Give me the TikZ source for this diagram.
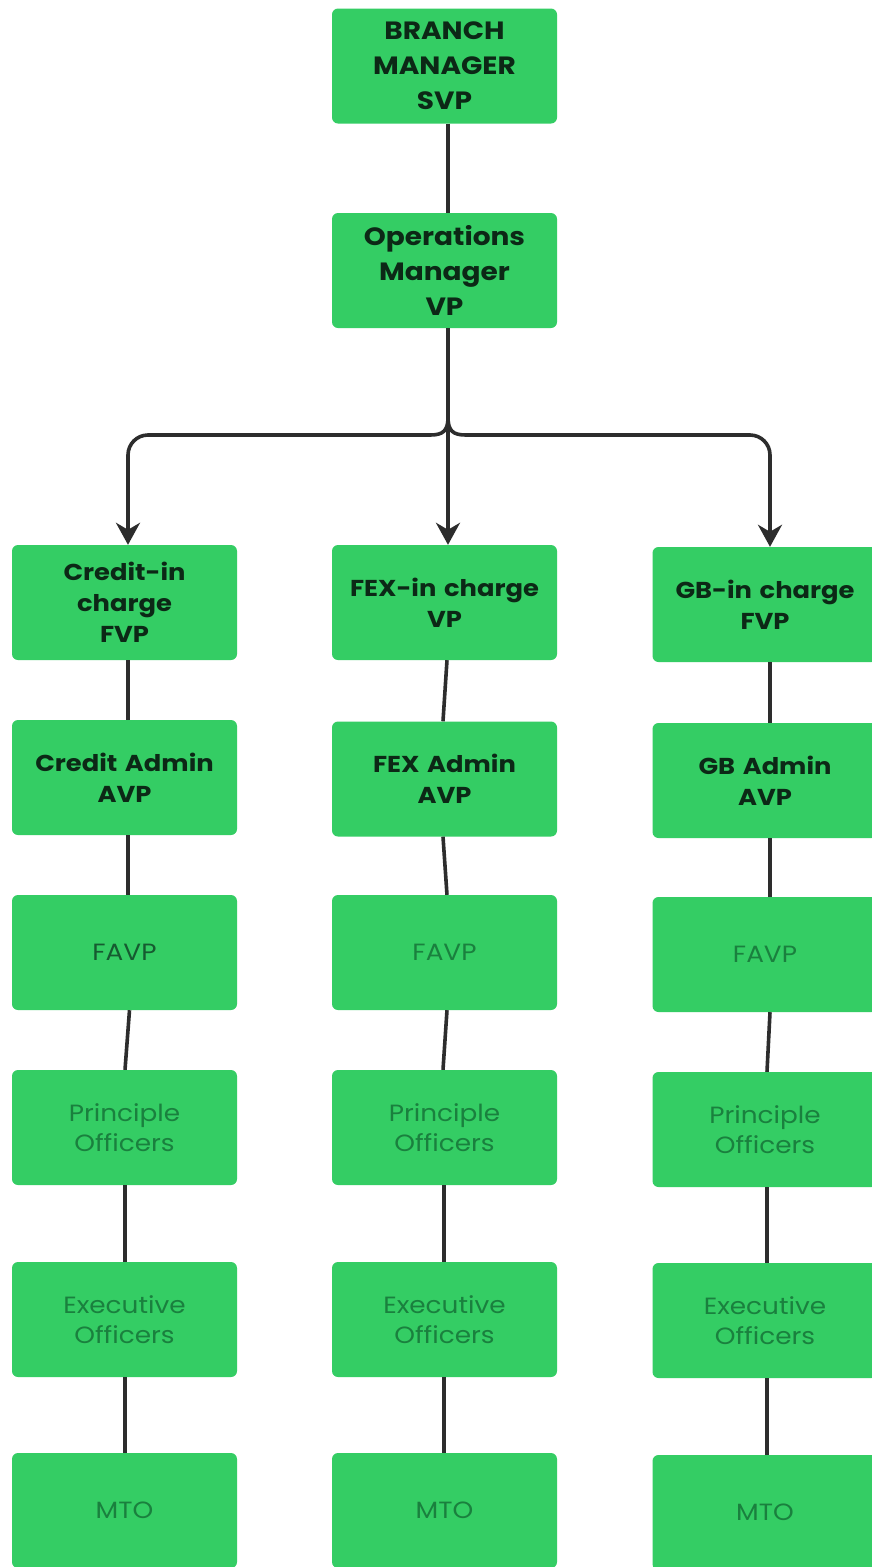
\documentclass[tikz,border=0pt]{standalone}
\usepackage{fontspec}
\setmainfont{Poppins}[FakeStretch=1.12]
\usetikzlibrary{arrows.meta,calc}
\definecolor{boxgreen}{RGB}{52,205,100}
\definecolor{linegray}{RGB}{45,45,45}
\definecolor{darktext}{RGB}{12,40,22}
\definecolor{lighttext}{RGB}{26,128,62}
\definecolor{midtext}{RGB}{22,90,48}
\tikzset{
  box/.style={fill=boxgreen, rounded corners=6pt, minimum width=225pt, minimum height=115pt, inner sep=0pt, align=center, text width=220pt},
  head/.style={box, text=darktext, font=\fontsize{23}{31}\selectfont\bfseries},
  top/.style={box, text=darktext, font=\fontsize{25}{35}\selectfont\bfseries},
  low/.style={box, text=lighttext, font=\fontsize{23.5}{30}\selectfont},
  conn/.style={draw=linegray, line width=3.6pt},
  arr/.style={conn, -{Stealth[length=22pt,width=24pt,inset=7pt]}},
}
\begin{document}
\begin{tikzpicture}[x=1pt,y=-1pt]
\useasboundingbox (0,0) rectangle (871,1567);
\fill[white] (0,0) rectangle (871,1567);
% top
\node[top] (bm)  at (444.5,66) {BRANCH\\MANAGER\\SVP};
\node[top] (ops) at (444.5,270.5) {Operations\\Manager\\VP};
% column 1
\node[head] (c1) at (124.5,602.5) {Credit-in\\charge\\FVP};
\node[head] (c2) at (124.5,777.5) {Credit Admin\\AVP};
\node[low, text=midtext] (c3) at (124.5,952.5) {FAVP};
\node[low] (c4) at (124.5,1127.5) {Principle\\Officers};
\node[low] (c5) at (124.5,1319.5) {Executive\\Officers};
\node[low] (c6) at (124.5,1510.5) {MTO};
% column 2
\node[head] (f1) at (444.5,602.5) {FEX-in charge\\VP};
\node[head] (f2) at (444.5,779) {FEX Admin\\AVP};
\node[low] (f3) at (444.5,952.5) {FAVP};
\node[low] (f4) at (444.5,1127.5) {Principle\\Officers};
\node[low] (f5) at (444.5,1319.5) {Executive\\Officers};
\node[low] (f6) at (444.5,1510.5) {MTO};
% column 3
\node[head] (g1) at (765,604.5) {GB-in charge\\FVP};
\node[head] (g2) at (765,780.5) {GB Admin\\AVP};
\node[low] (g3) at (765,954.5) {FAVP};
\node[low] (g4) at (765,1129.5) {Principle\\Officers};
\node[low] (g5) at (765,1320.5) {Executive\\Officers};
\node[low] (g6) at (765,1512.5) {MTO};
% connectors top
\draw[conn] ($(bm.south)+(3.5,0)$) -- ($(ops.north)+(3.5,0)$);
\coordinate (hop) at (448,417);
\coordinate (cornL) at (128,435);
\coordinate (cornR) at (770,435);
\draw[arr] ($(ops.south)+(3.5,0)$) -- ($(f1.north)+(3.5,0)$);
\draw[arr] (hop) .. controls (448,431) and (443,435) .. (430,435) [rounded corners=20pt] -- (cornL) -- ($(c1.north)+(3.5,0)$);
\draw[arr] (hop) .. controls (448,431) and (453,435) .. (466,435) [rounded corners=20pt] -- (cornR) -- ($(g1.north)+(5,0)$);
% column 1 links
\draw[conn] ($(c1.south)+(3.5,0)$) -- ($(c2.north)+(3.5,0)$);
\draw[conn] ($(c2.south)+(3.5,0)$) -- ($(c3.north)+(3.5,0)$);
\draw[conn] ($(c3.south)+(5,0)$) -- ($(c4.north)+(0.5,0)$);
\draw[conn] ($(c4.south)+(0.5,0)$) -- ($(c5.north)+(0.5,0)$);
\draw[conn] ($(c5.south)+(0.5,0)$) -- ($(c6.north)+(0.5,0)$);
% column 2 links
\draw[conn] ($(f1.south)+(2.5,0)$) -- ($(f2.north)+(-1.5,0)$);
\draw[conn] ($(f2.south)+(-1.5,0)$) -- ($(f3.north)+(2.5,0)$);
\draw[conn] ($(f3.south)+(2.5,0)$) -- ($(f4.north)+(-1.5,0)$);
\draw[conn] ($(f4.south)+(-0.5,0)$) -- ($(f5.north)+(-0.5,0)$);
\draw[conn] ($(f5.south)+(-0.5,0)$) -- ($(f6.north)+(-0.5,0)$);
% column 3 links
\draw[conn] ($(g1.south)+(5,0)$) -- ($(g2.north)+(5,0)$);
\draw[conn] ($(g2.south)+(5,0)$) -- ($(g3.north)+(5,0)$);
\draw[conn] ($(g3.south)+(5,0)$) -- ($(g4.north)+(2,0)$);
\draw[conn] ($(g4.south)+(2,0)$) -- ($(g5.north)+(2,0)$);
\draw[conn] ($(g5.south)+(2,0)$) -- ($(g6.north)+(2,0)$);
\end{tikzpicture}
\end{document}
